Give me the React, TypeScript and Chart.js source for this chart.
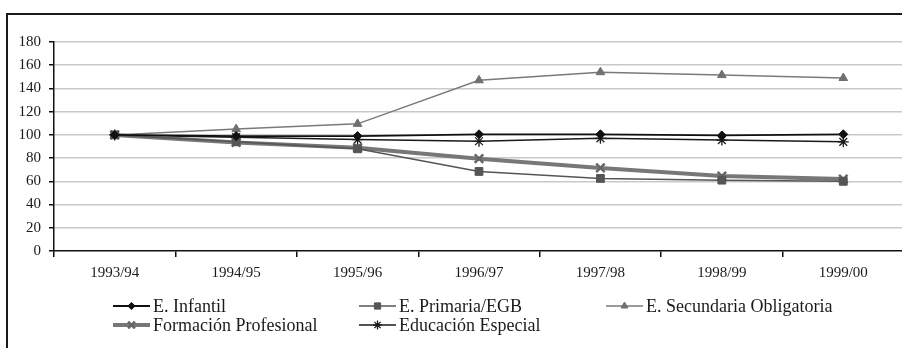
import { useEffect, useRef } from 'react';
import { Chart, registerables } from 'chart.js';
import { drawPoint } from 'chart.js/helpers';

Chart.register(...registerables);

const categories = ['1993/94', '1994/95', '1995/96', '1996/97', '1997/98', '1998/99', '1999/00'];
const infantil = [100, 99, 99, 100.5, 100.5, 99.5, 100.5];
const primaria = [100, 94, 88, 68.5, 62.5, 61, 60];
const secundaria = [100, 105, 109.5, 147, 154, 151.5, 149];
const formacion = [100, 93.5, 89, 79.5, 71.5, 64.5, 62];
const especial = [100, 98, 96, 94.5, 97, 95.5, 94];
const yMax = 180;
const yStep = 20;

const FONT = '"Liberation Serif", "Times New Roman", serif';

const legendPlugin = {
  id: 'gridLegend',
  afterDraw(chart: any, _args: any, opts: any) {
    const ctx = chart.ctx;
    chart.data.datasets.forEach((ds: any, i: number) => {
      const slot = opts.slots[i];
      if (!slot) return;
      const [x, y] = slot;
      ctx.save();
      ctx.strokeStyle = ds.borderColor;
      ctx.lineWidth = ds.borderWidth;
      ctx.beginPath();
      ctx.moveTo(x, y);
      ctx.lineTo(x + opts.lineLength, y);
      ctx.stroke();
      ctx.fillStyle = ds.pointBackgroundColor;
      ctx.strokeStyle = ds.pointBorderColor;
      ctx.lineWidth = ds.pointBorderWidth;
      drawPoint(ctx, {
        pointStyle: ds.pointStyle,
        rotation: 0,
        radius: ds.pointRadius * 0.8,
        borderWidth: ds.pointBorderWidth,
      } as any, x + opts.lineLength / 2, y);
      ctx.fillStyle = '#1a1a1a';
      ctx.font = opts.font;
      ctx.textBaseline = 'middle';
      ctx.textAlign = 'left';
      ctx.fillText(ds.label, x + opts.lineLength + 3, y + 1);
      ctx.restore();
    });
  },
};

export default function App() {
  const ref = useRef<HTMLCanvasElement>(null);

  useEffect(() => {
    if (!ref.current) return;
    const chart = new Chart(ref.current, {
      type: 'line',
      data: {
        labels: categories,
        datasets: [
          {
            label: 'E. Infantil',
            data: infantil,
            borderColor: '#111111',
            borderWidth: 1.8,
            pointStyle: 'rectRot',
            pointRadius: 4.5,
            pointBackgroundColor: '#111111',
            pointBorderColor: '#111111',
            pointBorderWidth: 1,
            tension: 0,
          },
          {
            label: 'E. Primaria/EGB',
            data: primaria,
            borderColor: '#555555',
            borderWidth: 1.5,
            pointStyle: 'rect',
            pointRadius: 5.5,
            pointBackgroundColor: '#555555',
            pointBorderColor: '#555555',
            pointBorderWidth: 1,
            tension: 0,
          },
          {
            label: 'E. Secundaria Obligatoria',
            data: secundaria,
            borderColor: '#7a7a7a',
            borderWidth: 1.5,
            pointStyle: 'triangle',
            pointRadius: 5,
            pointBackgroundColor: '#707070',
            pointBorderColor: '#707070',
            pointBorderWidth: 1,
            tension: 0,
          },
          {
            label: 'Formación Profesional',
            data: formacion,
            borderColor: '#777777',
            borderWidth: 4,
            pointStyle: 'crossRot',
            pointRadius: 6,
            pointBackgroundColor: '#666666',
            pointBorderColor: '#666666',
            pointBorderWidth: 2.5,
            tension: 0,
          },
          {
            label: 'Educación Especial',
            data: especial,
            borderColor: '#1a1a1a',
            borderWidth: 1.5,
            pointStyle: 'star',
            pointRadius: 5.5,
            pointBackgroundColor: '#1a1a1a',
            pointBorderColor: '#1a1a1a',
            pointBorderWidth: 1.3,
            tension: 0,
          },
        ],
      },
      options: {
        responsive: false,
        animation: false,
        devicePixelRatio: 1,
        layout: { padding: { left: 0, right: 16, top: 42, bottom: 0 } },
        plugins: {
          legend: { display: false },
          tooltip: { enabled: false },
          gridLegend: {
            slots: [[113, 306], [359, 306], [606, 306], [113, 325], [359, 325]],
            lineLength: 37,
            font: `18px ${FONT}`,
          },
        } as any,
        scales: {
          x: {
            offset: true,
            grid: {
              offset: true,
              drawOnChartArea: false,
              drawTicks: true,
              tickLength: 6,
              tickColor: '#111111',
              lineWidth: 1.5,
            },
            border: { color: '#111111', width: 1.5 },
            ticks: {
              color: '#1a1a1a',
              font: { family: FONT, size: 15 },
              padding: 7,
              maxRotation: 0,
              autoSkip: false,
            },
            afterFit(scale: any) {
              scale.height = 97;
            },
          },
          y: {
            min: 0,
            max: yMax,
            ticks: {
              stepSize: yStep,
              color: '#1a1a1a',
              font: { family: FONT, size: 15 },
              padding: 8,
            },
            grid: {
              color: (c: any) => (c.tick && c.tick.value === 0 ? 'rgba(0,0,0,0)' : '#c9c9c9'),
              lineWidth: 1.5,
              tickLength: 5,
              tickColor: '#111111',
              drawTicks: true,
            },
            border: { color: '#111111', width: 1.5 },
            afterFit(scale: any) {
              scale.width = 54;
            },
          },
        },
      },
      plugins: [legendPlugin],
    });
    return () => chart.destroy();
  }, []);

  return (
    <div
      style={{
        position: 'fixed',
        left: 0,
        top: 0,
        width: 902,
        height: 348,
        overflow: 'hidden',
        background: '#ffffff',
      }}
    >
      <div
        style={{
          position: 'absolute',
          left: 6,
          top: 13,
          width: 2000,
          height: 2000,
          border: '2px solid #1a1a1a',
        }}
      />
      <canvas
        ref={ref}
        width={920}
        height={348}
        style={{ position: 'absolute', left: 0, top: 0, width: 920, height: 348 }}
      />
    </div>
  );
}
